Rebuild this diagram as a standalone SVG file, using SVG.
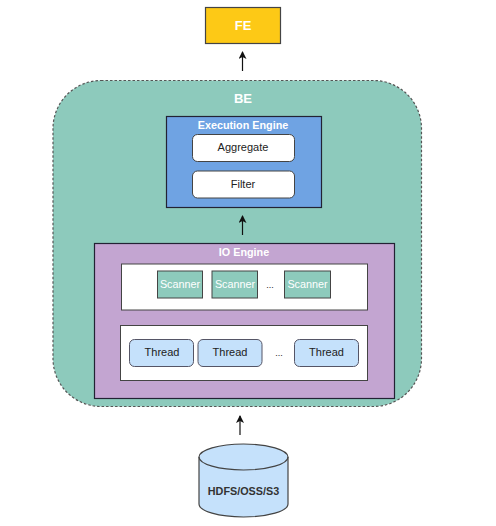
<svg xmlns="http://www.w3.org/2000/svg" width="496" height="526" viewBox="0 0 496 526">
<defs>
<marker id="arrow" markerUnits="userSpaceOnUse" markerWidth="9" markerHeight="9" refX="7" refY="4" orient="auto"><path d="M0 0L8 4L0 8L2 4Z" fill="#111"/></marker>
</defs>
<style>
text{font-family:"Liberation Sans",Arial,sans-serif;text-anchor:middle}
.w{fill:#fff;font-weight:bold}
.s{fill:#fff;font-size:10.800px}
.k{fill:#222;font-size:11px}
.wb{fill:#fff;stroke:#444;stroke-width:1}
.sc{fill:#8dcabc;stroke:#444;stroke-width:1}
.th{fill:#c5e1fb;stroke:#556;stroke-width:1}
.conn{stroke:#111;stroke-width:1.2;fill:none;marker-end:url(#arrow)}
</style>
<g id="fe"><rect x="205.500" y="7.500" width="75" height="36" fill="#fdc916" stroke="#444" stroke-width="1.200"/><text x="243" y="30" class="w" font-size="13">FE</text></g>
<g id="be"><rect x="53" y="80.500" width="368.500" height="326" rx="48" fill="#8dcabc" stroke="#555" stroke-width="1.200" stroke-dasharray="2.500 2"/><text x="243" y="103" class="w" font-size="13">BE</text></g>
<g id="execution-engine"><rect x="166.500" y="116.500" width="155" height="91" fill="#6fa3e3" stroke="#223" stroke-width="1.200"/><text x="243" y="128.500" class="w" font-size="10.800">Execution Engine</text></g>
<g id="aggregate"><rect x="192.500" y="134.500" width="102" height="27" rx="5" class="wb"/><text x="243" y="151" class="k">Aggregate</text></g>
<g id="filter"><rect x="192.500" y="171" width="102" height="27" rx="5" class="wb"/><text x="243" y="187.500" class="k">Filter</text></g>
<g id="io-engine"><rect x="94.500" y="243.500" width="300" height="155" fill="#c3a5d1" stroke="#223" stroke-width="1.200"/><text x="244" y="256" class="w" font-size="10.800">IO Engine</text></g>
<g id="scanner-pool"><rect x="121.500" y="264" width="246" height="46" class="wb"/><text x="270" y="288" class="k" style="font-size:9px">...</text></g>
<g id="scanner-1"><rect x="157.500" y="271" width="45" height="27" class="sc"/><text x="180" y="288" class="s">Scanner</text></g>
<g id="scanner-2"><rect x="212" y="271" width="45.500" height="27" class="sc"/><text x="235" y="288" class="s">Scanner</text></g>
<g id="scanner-3"><rect x="284.500" y="271" width="46" height="27" class="sc"/><text x="307.500" y="288" class="s">Scanner</text></g>
<g id="thread-pool"><rect x="120.500" y="325.500" width="247" height="55" class="wb"/><text x="279" y="356" class="k" style="font-size:9px">...</text></g>
<g id="thread-1"><rect x="129.500" y="339.500" width="64" height="27" rx="5" class="th"/><text x="162" y="356" class="k">Thread</text></g>
<g id="thread-2"><rect x="198" y="339.500" width="64" height="27" rx="5" class="th"/><text x="230" y="356" class="k">Thread</text></g>
<g id="thread-3"><rect x="294.500" y="339.500" width="64" height="27" rx="5" class="th"/><text x="326.500" y="356" class="k">Thread</text></g>
<g id="hdfs"><path d="M199 457V504A44.500 13 0 0 0 288 504V457A44.500 13 0 0 0 199 457Z" fill="#c5e1fb" stroke="#444" stroke-width="1.200"/><path d="M199 457A44.500 13 0 0 0 288 457" fill="none" stroke="#444" stroke-width="1.200"/><text x="243.500" y="494.500" style="font-size:10.800px;font-weight:bold" fill="#333">HDFS/OSS/S3</text></g>
<g id="connectors">
<line x1="242.500" y1="71" x2="242.500" y2="52" class="conn"/>
<line x1="242.500" y1="235" x2="242.500" y2="216" class="conn"/>
<line x1="240" y1="435" x2="240" y2="416" class="conn"/>
</g>
</svg>
